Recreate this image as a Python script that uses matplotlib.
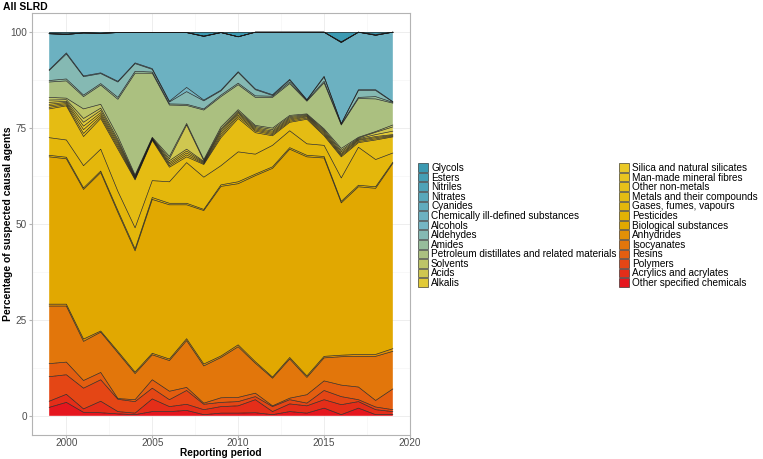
import numpy as np
import matplotlib
matplotlib.use('Agg')
import matplotlib.pyplot as plt
from matplotlib.colors import LinearSegmentedColormap
from matplotlib.patches import Patch

plt.rcParams['font.family'] = ['Liberation Sans', 'DejaVu Sans']

years = list(range(1999, 2020))

# stack order, bottom to top
categories = ['Other specified chemicals', 'Acrylics and acrylates', 'Polymers', 'Resins',
              'Isocyanates', 'Anhydrides', 'Biological substances', 'Pesticides',
              'Gases, fumes, vapours', 'Metals and their compounds', 'Other non-metals',
              'Man-made mineral fibres', 'Silica and natural silicates', 'Alkalis', 'Acids',
              'Solvents', 'Petroleum distillates and related materials', 'Amides', 'Aldehydes',
              'Alcohols', 'Chemically ill-defined substances', 'Cyanides', 'Nitrates',
              'Nitriles', 'Esters', 'Glycols']

other_specified = [2.2, 3.5, 0.9, 0.8, 0.5, 0.3, 1.1, 1.1, 1.4, 0.3, 0.7, 0.7, 0.8, 0.3, 1.1, 0.7, 2.0, 0.3, 2.0, 0.3, 0.3]
acrylics = [1.6, 2.1, 0.9, 3.0, 0.6, 0.4, 3.3, 1.3, 1.6, 1.3, 1.7, 1.9, 3.4, 0.8, 2.0, 1.9, 2.2, 2.6, 1.7, 1.3, 0.8]
polymers = [6.4, 5.1, 5.4, 5.6, 3.2, 3.0, 2.8, 1.8, 3.6, 1.4, 1.1, 1.1, 0.8, 1.3, 1.1, 0.7, 2.4, 2.1, 0.5, 0.7, 0.5]
resins = [3.4, 3.3, 2.0, 1.9, 0.2, 0.5, 2.2, 2.2, 0.8, 0.3, 1.2, 1.1, 0.9, 0.2, 0.4, 2.2, 2.5, 3.0, 3.3, 1.7, 5.4]
isocyanates = [15.0, 14.6, 10.2, 10.5, 11.9, 6.8, 6.5, 8.0, 12.2, 9.7, 10.5, 13.2, 7.8, 7.2, 10.2, 4.5, 6.0, 7.4, 8.0, 11.5, 9.8]
anhydrides = [0.5, 0.5, 0.6, 0.3, 0.4, 0.4, 0.4, 0.4, 0.5, 0.5, 0.4, 0.5, 0.4, 0.3, 0.4, 0.4, 0.4, 0.4, 0.5, 0.5, 0.7]
biological = [38.4, 37.9, 39.0, 41.3, 36.2, 31.6, 40.1, 40.2, 34.9, 40.0, 44.2, 42.0, 48.5, 54.4, 54.3, 57.1, 51.7, 39.7, 43.7, 43.3, 48.3]
pesticides = [0.4, 0.4, 0.4, 0.4, 0.5, 0.5, 0.5, 0.4, 0.4, 0.3, 0.4, 0.5, 0.4, 0.4, 0.4, 0.4, 0.4, 0.4, 0.4, 0.4, 0.3]
gases = [4.6, 4.5, 5.8, 5.7, 5.0, 5.5, 4.4, 5.6, 10.6, 8.4, 5.0, 7.8, 5.2, 5.6, 4.4, 3.0, 2.9, 6.1, 9.9, 7.1, 2.4]
metals = [7.5, 8.9, 7.6, 8.0, 11.0, 12.5, 10.5, 3.8, 1.5, 3.3, 7.3, 8.7, 5.6, 2.5, 2.2, 6.4, 2.5, 5.5, 1.2, 5.1, 4.2]
other_nonmetals = [0.4, 0.3, 0.8, 0.5, 0.5, 0.2, 0.2, 0.4, 0.5, 0.2, 0.5, 0.5, 0.4, 0.3, 0.3, 0.3, 0.3, 0.3, 0.3, 0.3, 0.2]
mineral_fibres = [0.4, 0.3, 1.0, 0.5, 0.5, 0.2, 0.1, 0.4, 0.5, 0.2, 0.5, 0.4, 0.3, 0.3, 0.3, 0.3, 0.3, 0.3, 0.3, 0.3, 0.2]
silica = [0.4, 0.3, 0.9, 0.5, 0.5, 0.2, 0.1, 0.4, 0.5, 0.2, 0.5, 0.4, 0.3, 0.3, 0.3, 0.2, 0.3, 0.3, 0.2, 0.3, 0.2]
alkalis = [0.5, 0.3, 1.0, 0.6, 0.5, 0.2, 0.1, 0.5, 0.5, 0.2, 0.4, 0.3, 0.3, 0.3, 0.3, 0.2, 0.3, 0.4, 0.2, 0.5, 0.9]
acids = [0.6, 0.4, 1.0, 0.6, 0.5, 0.2, 0.1, 0.5, 6.3, 0.2, 0.4, 0.3, 0.3, 0.4, 0.3, 0.2, 0.3, 0.4, 0.2, 0.6, 1.1]
solvents = [0.7, 0.4, 2.5, 1.0, 0.8, 0.3, 0.2, 0.6, 0.4, 0.3, 0.5, 0.4, 0.3, 0.4, 0.3, 0.2, 0.3, 0.5, 0.2, 0.2, 0.5]
petroleum = [4.0, 4.5, 3.2, 5.0, 9.7, 26.5, 16.7, 13.4, 4.7, 12.9, 7.9, 6.5, 7.3, 8.0, 8.3, 3.3, 12.0, 6.1, 10.1, 8.5, 5.7]
amides = [0.4, 0.5, 0.4, 0.4, 0.5, 0.5, 0.3, 0.3, 0.3, 0.3, 0.4, 0.4, 0.4, 0.3, 0.4, 0.2, 0.4, 0.2, 0.3, 0.6, 0.2]
aldehydes = [2.6, 6.5, 4.8, 2.6, 4.0, 2.0, 0.7, 0.5, 3.3, 2.1, 1.1, 2.8, 1.6, 0.2, 0.5, 0.1, 1.1, 0.1, 1.8, 1.6, 0.1]
alcohols = [0.2, 0.3, 0.2, 0.2, 0.2, 0.2, 0.2, 0.2, 1.1, 0.2, 0.2, 0.2, 0.2, 0.2, 0.2, 0.1, 0.2, 0.1, 0.2, 0.2, 0.1]
ill_defined = [9.4, 4.8, 11.2, 10.3, 12.7, 7.9, 9.4, 17.9, 14.3, 16.6, 15.0, 9.1, 14.8, 16.3, 12.3, 17.6, 11.5, 21.1, 15.0, 14.2, 18.1]
cyanides = [0] * 21
nitrates = [0, 0, 0, 0, 0, 0, 0, 0, 0, 0, 0, 0, 0, 0, 0, 0, 0, 0.1, 0, 0, 0]
nitriles = [0, 0, 0, 0, 0, 0, 0, 0, 0, 0.1, 0, 0, 0, 0, 0, 0, 0, 0, 0, 0, 0]
esters = [0.1, 0.2, 0, 0, 0, 0, 0, 0, 0, 0, 0, 0, 0, 0, 0, 0, 0, 0.1, 0, 0.2, 0]
glycols = [0.3, 0.4, 0.2, 0.3, 0.1, 0.1, 0.1, 0.1, 0.1, 1.0, 0.1, 1.2, 0, 0, 0, 0, 0, 2.5, 0, 0.6, 0]

series = [other_specified, acrylics, polymers, resins, isocyanates, anhydrides, biological,
          pesticides, gases, metals, other_nonmetals, mineral_fibres, silica, alkalis, acids,
          solvents, petroleum, amides, aldehydes, alcohols, ill_defined, cyanides, nitrates,
          nitriles, esters, glycols]

# blue (Glycols) -> yellow -> gold -> red (Other specified)
ramp_cmap = LinearSegmentedColormap.from_list('ramp', ['#3B9AB2', '#78B7C5', '#EBCC2A', '#E1AF00', '#E5161E'])
ramp = [ramp_cmap(v) for v in np.linspace(0, 1, len(categories))]
colors = ramp[::-1]  # match bottom-to-top stack order

fig = plt.figure(figsize=(7.63, 4.59), dpi=100)
ax = fig.add_axes([32 / 763, 24 / 459, 378 / 763, 422 / 459])

ax.stackplot(years, series, colors=colors, linewidth=0)
tops = np.cumsum(np.array(series), axis=0)
for row in tops:
    ax.plot(years, row, color='#1a1a1a', lw=0.45)

ax.set_xlim(1998, 2020)
ax.set_ylim(-5, 105)
ax.set_xticks([2000, 2005, 2010, 2015, 2020])
ax.set_yticks([0, 25, 50, 75, 100])
ax.set_xticks([2002.5, 2007.5, 2012.5, 2017.5], minor=True)
ax.set_yticks([12.5, 37.5, 62.5, 87.5], minor=True)
ax.grid(which='major', color='#ebebeb', lw=0.6)
ax.grid(which='minor', color='#f4f4f4', lw=0.4)
ax.set_axisbelow(True)
for s in ax.spines.values():
    s.set_color('#b3b3b3')
    s.set_linewidth(0.8)
ax.tick_params(which='major', length=2.5, color='#b3b3b3', labelsize=7.2, labelcolor='#4d4d4d', pad=1)
ax.tick_params(axis='x', which='major', pad=0)
ax.tick_params(which='minor', length=0)

fig.text(221 / 763, 1 - 452.5 / 459, 'Reporting period', fontsize=7.3, fontweight='bold',
         ha='center', va='center')
fig.text(8 / 763, 1 - 224 / 459, 'Percentage of suspected causal agents', fontsize=7.5,
         fontweight='bold', rotation=90, ha='center', va='center')
fig.text(3 / 763, 1 - 7 / 459, 'All SLRD', fontsize=7.5, fontweight='bold', va='center', ha='left')

# legend: top of stack first, two columns
handles = [Patch(facecolor=colors[k], edgecolor='#1a1a1a', linewidth=0.4) for k in range(len(categories))][::-1]
labels = categories[::-1]
fig.legend(handles, labels, ncol=2, loc='center left', bbox_to_anchor=(411 / 763, 1 - 225.5 / 459),
           frameon=False, fontsize=7.2, handlelength=1.0, handleheight=0.95, handletextpad=0.3,
           labelspacing=-0.04, columnspacing=0.25, borderpad=0.2)

fig.savefig('out.png', dpi=100)
